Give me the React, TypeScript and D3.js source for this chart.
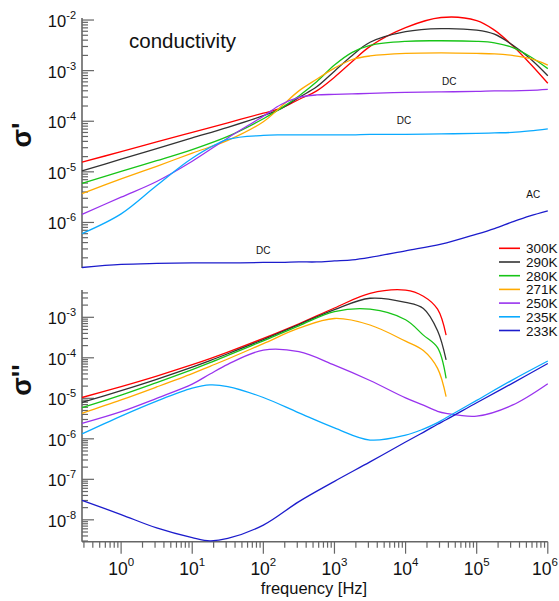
import React from 'react';
import * as d3 from 'd3';

// series labels and colours
const series = ['300K', '290K', '280K', '271K', '250K', '235K', '233K'];
const colors = ['#ff0000', '#333333', '#17c417', '#ffaa00', '#9933ee', '#0aaaff', '#1c1ccc'];

// log10 of frequency [Hz], upper panel grid
const logFreqTop = [-0.55, 0, 0.5, 1, 1.5, 2, 2.25, 2.5, 2.75, 3, 3.25, 3.5, 4, 4.5, 5, 5.25, 5.5, 5.75, 6];

// log10 sigma' (real part)
const re300 = [-4.81, -4.60, -4.41, -4.22, -4.03, -3.84, -3.74, -3.57, -3.40, -3.13, -2.82, -2.52, -2.15, -1.95, -2.01, -2.20, -2.50, -2.86, -3.25];
const re290 = [-4.98, -4.75, -4.54, -4.33, -4.12, -3.89, -3.75, -3.53, -3.32, -3.01, -2.70, -2.44, -2.23, -2.17, -2.20, -2.28, -2.49, -2.76, -3.10];
const re280 = [-5.23, -4.99, -4.78, -4.56, -4.30, -3.95, -3.74, -3.50, -3.22, -2.89, -2.64, -2.50, -2.42, -2.41, -2.42, -2.45, -2.54, -2.72, -2.96];
const re271 = [-5.43, -5.14, -4.89, -4.63, -4.38, -4.01, -3.71, -3.40, -3.17, -2.95, -2.78, -2.71, -2.66, -2.65, -2.66, -2.67, -2.70, -2.76, -2.89];
const re250 = [-5.84, -5.50, -5.19, -4.79, -4.33, -3.90, -3.67, -3.53, -3.48, -3.47, -3.46, -3.45, -3.43, -3.42, -3.41, -3.40, -3.40, -3.39, -3.37];
const re235 = [-6.22, -5.83, -5.27, -4.73, -4.36, -4.28, -4.27, -4.27, -4.27, -4.27, -4.27, -4.26, -4.26, -4.25, -4.24, -4.23, -4.22, -4.19, -4.15];
const re233 = [-6.89, -6.83, -6.81, -6.80, -6.80, -6.79, -6.79, -6.78, -6.78, -6.76, -6.74, -6.69, -6.56, -6.43, -6.23, -6.12, -5.99, -5.87, -5.77];

// log10 of frequency [Hz], lower panel grid
const logFreqBot = [-0.55, 0, 0.5, 1, 1.25, 1.5, 2, 2.5, 3, 3.5, 4, 4.25, 4.45, 4.57, 5, 5.5, 6];

// log10 sigma'' (imaginary part), null = not measured
const im300 = [-4.98, -4.71, -4.45, -4.17, -4.02, -3.86, -3.52, -3.16, -2.77, -2.41, -2.33, -2.48, -2.80, -3.44, null, null, null];
const im290 = [-5.10, -4.81, -4.53, -4.23, -4.07, -3.90, -3.55, -3.18, -2.81, -2.53, -2.63, -2.78, -3.33, -4.05, null, null, null];
const im280 = [-5.23, -4.92, -4.61, -4.29, -4.12, -3.94, -3.58, -3.21, -2.86, -2.80, -3.06, -3.44, -3.75, -4.51, null, null, null];
const im271 = [-5.37, -5.04, -4.72, -4.39, -4.21, -4.03, -3.65, -3.27, -3.03, -3.19, -3.59, -3.82, -4.26, -4.96, null, null, null];
const im250 = [-5.62, -5.33, -5.00, -4.65, -4.40, -4.16, -3.81, -3.85, -4.18, -4.56, -4.99, -5.17, -5.32, -5.37, -5.44, -5.17, -4.64];
const im235 = [-5.88, -5.44, -5.07, -4.75, -4.67, -4.71, -4.98, -5.36, -5.73, -6.03, -5.91, -5.76, -5.60, -5.48, -5.05, -4.55, -4.08];
const im233 = [-7.52, -7.87, -8.20, -8.44, -8.52, -8.46, -8.13, -7.55, -7.05, -6.57, -6.08, -5.84, -5.64, -5.53, -5.11, -4.63, -4.14];

const reData = [re300, re290, re280, re271, re250, re235, re233];
const imData = [im300, im290, im280, im271, im250, im235, im233];

// curve annotations: [text, log10 f, log10 sigma']
const notes: [string, number, number][] = [
  ['DC', 4.615, -3.276],
  ['DC', 3.977, -4.047],
  ['AC', 5.796, -5.509],
  ['DC', 2.0, -6.63],
];

const font = '"Liberation Sans", Arial, Helvetica, sans-serif';
const axisColor = '#666';

const x = d3.scaleLog().domain([10 ** -0.55, 1e6]).range([82, 547.8]);
const yTop = d3.scaleLog().domain([10 ** -6.9, 10 ** -1.96]).range([268, 18]);
const yBot = d3.scaleLog().domain([10 ** -8.54, 10 ** -2.326]).range([541.7, 290]);

const isMajor = (t: number) => Math.abs(Math.log10(t) - Math.round(Math.log10(t))) < 1e-6;

const YAxis = ({ y }: { y: d3.ScaleLogarithmic<number, number> }) => {
  const [r0, r1] = y.range();
  const x0 = x.range()[0];
  return (
    <g>
      <line x1={x0} x2={x0} y1={r0} y2={r1} stroke={axisColor} strokeWidth={1.6} />
      {y.ticks().map((t, i) => {
        const major = isMajor(t);
        return (
          <g key={i}>
            <line x1={x0} x2={x0 + (major ? 12 : 6)} y1={y(t)} y2={y(t)} stroke={axisColor} strokeWidth={1.2} />
            {major && (
              <text x={76} y={y(t) + 7} textAnchor="end" fontSize={16.5} fill="#111">
                10<tspan dy={-8} fontSize={11}>{Math.round(Math.log10(t))}</tspan>
              </text>
            )}
          </g>
        );
      })}
    </g>
  );
};

const XAxis = () => {
  const y0 = yBot.range()[0];
  const [a, b] = x.range();
  return (
    <g>
      <line x1={a} x2={b} y1={y0} y2={y0} stroke={axisColor} strokeWidth={1.6} />
      {x.ticks().map((t, i) => {
        const major = isMajor(t);
        return (
          <g key={i}>
            <line x1={x(t)} x2={x(t)} y1={y0} y2={y0 + (major ? 12 : 6)} stroke={axisColor} strokeWidth={1.2} />
            {major && (
              <text x={Math.min(x(t), 545)} y={575} textAnchor="middle" fontSize={17.5} fill="#111">
                10<tspan dy={-9} fontSize={11.5}>{Math.round(Math.log10(t))}</tspan>
              </text>
            )}
          </g>
        );
      })}
    </g>
  );
};

const makeLine = (y: d3.ScaleLogarithmic<number, number>) =>
  d3
    .line<[number, number | null]>()
    .defined((d) => d[1] !== null)
    .x((d) => x(10 ** d[0]))
    .y((d) => y(10 ** (d[1] as number)))
    .curve(d3.curveCatmullRom.alpha(0.5));

const App = () => {
  const lineTop = makeLine(yTop);
  const lineBot = makeLine(yBot);
  return (
    <svg width={559} height={601} style={{ position: 'absolute', left: 0, top: 0, background: '#fff' }} fontFamily={font}>
      <YAxis y={yTop} />
      <YAxis y={yBot} />
      <XAxis />

      {reData.map((vals, i) => (
        <path
          key={'re' + i}
          d={lineTop(logFreqTop.map((f, j) => [f, vals[j]] as [number, number | null])) || ''}
          fill="none"
          stroke={colors[i]}
          strokeWidth={1.3}
        />
      ))}
      {imData.map((vals, i) => (
        <path
          key={'im' + i}
          d={lineBot(logFreqBot.map((f, j) => [f, vals[j]] as [number, number | null])) || ''}
          fill="none"
          stroke={colors[i]}
          strokeWidth={1.3}
        />
      ))}

      {notes.map(([t, f, v], i) => (
        <text key={i} x={x(10 ** f)} y={yTop(10 ** v)} textAnchor="middle" fontSize={10} fill="#111">
          {t}
        </text>
      ))}

      <text x={129} y={48} fontSize={20.5} fill="#111">conductivity</text>

      <text transform="translate(31,135) rotate(-90)" textAnchor="middle" fontSize={27} fontWeight="bold" fill="#111">
        σ'
      </text>
      <text transform="translate(31,380) rotate(-90)" textAnchor="middle" fontSize={27} fontWeight="bold" fill="#111">
        σ''
      </text>

      <text x={314} y={594} textAnchor="middle" fontSize={16.5} fill="#111">frequency [Hz]</text>

      {series.map((s, i) => {
        const ly = 248.3 + i * 13.7;
        return (
          <g key={s}>
            <line x1={499} x2={520} y1={ly} y2={ly} stroke={colors[i]} strokeWidth={1.6} />
            <text x={526} y={ly + 5} fontSize={13.5} fill="#111">{s}</text>
          </g>
        );
      })}
    </svg>
  );
};

export default App;
